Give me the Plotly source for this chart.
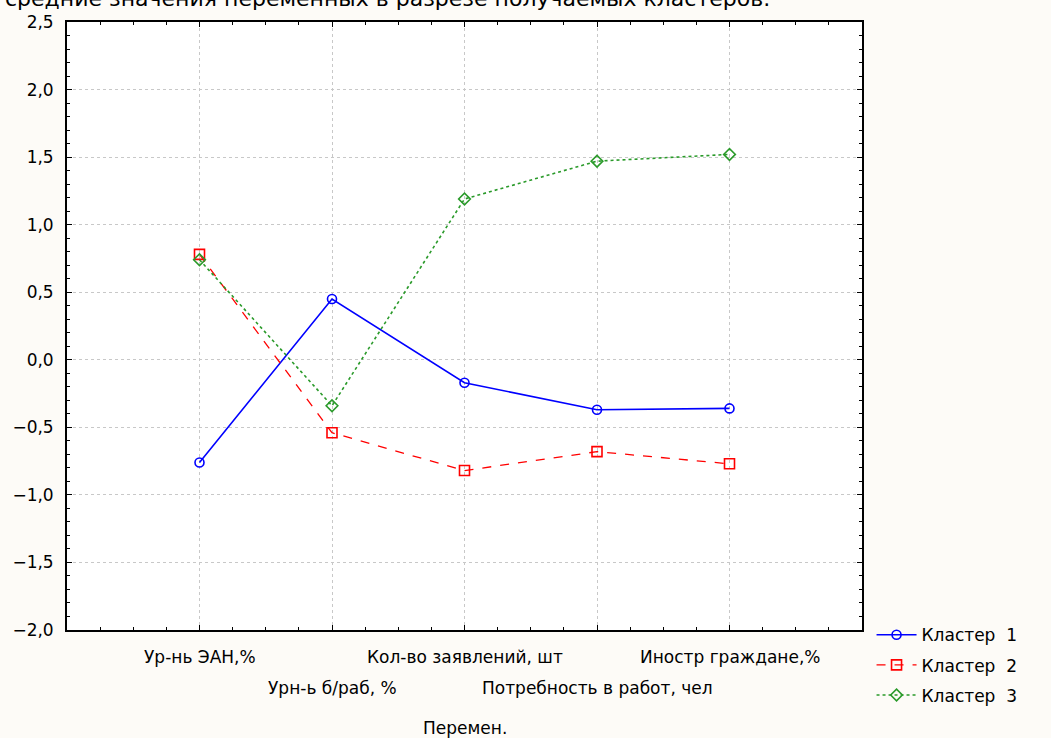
import plotly.graph_objects as go

categories = ["Ур-нь ЭАН,%", "Урн-ь б/раб, %", "Кол-во заявлений, шт",
              "Потребность в работ, чел", "Иностр граждане,%"]
cluster1 = [-0.76, 0.45, -0.17, -0.37, -0.36]
cluster2 = [0.78, -0.54, -0.82, -0.68, -0.77]
cluster3 = [0.74, -0.34, 1.19, 1.47, 1.52]
series_names = ["Кластер  1", "Кластер  2", "Кластер  3"]
title_text = "средние значения переменных в разрезе получаемых кластеров."
x_title = "Перемен."

FONT = "DejaVu Sans, Verdana, sans-serif"
FS = 17
BG = "#FDFBF7"
idx = list(range(len(categories)))

fig = go.Figure()
fig.add_trace(go.Scatter(x=idx, y=cluster1, name=series_names[0], mode="lines+markers",
                         legendgroup="c1",
                         line=dict(color="#0000FF", width=1.6),
                         marker=dict(symbol="circle-open", size=9, color="#0000FF", line=dict(width=1.6))))
fig.add_trace(go.Scatter(x=idx, y=cluster2, name=series_names[1], mode="lines+markers",
                         legendgroup="c2",
                         line=dict(color="#FF0000", width=1.3, dash="dash"),
                         marker=dict(symbol="square-open", size=10, color="#FF0000", line=dict(width=1.6))))
fig.add_trace(go.Scatter(x=idx, y=cluster3, name=series_names[2], mode="lines+markers",
                         legendgroup="c3",
                         line=dict(color="#2A9A2A", width=1.6, dash="dot"),
                         marker=dict(symbol="diamond-open", size=9, color="#2A9A2A", line=dict(width=1.6))))

# x category labels in two staggered rows
for i, c in enumerate(categories):
    fig.add_annotation(x=i, xref="x", y=-0.044 if i % 2 == 0 else -0.095, yref="paper",
                       text=c, showarrow=False, yanchor="middle", xanchor="center",
                       font=dict(family=FONT, size=FS, color="black"))
fig.add_annotation(x=2, xref="x", y=-0.161, yref="paper", text=x_title, showarrow=False,
                   yanchor="middle", xanchor="center", font=dict(family=FONT, size=FS, color="black"))
fig.add_annotation(x=-0.0802, xref="paper", xanchor="left", y=1.038, yref="paper", yanchor="middle",
                   text=title_text, showarrow=False,
                   font=dict(family=FONT, size=22, color="black"))

fig.update_layout(
    width=1051, height=738,
    margin=dict(l=64, r=189, t=20, b=108),
    paper_bgcolor=BG, plot_bgcolor="white",
    separators=", ",
    font=dict(family=FONT, size=FS, color="black"),
    showlegend=True,
    legend=dict(x=1.012, xanchor="left", y=0.021, yanchor="top", bgcolor="rgba(0,0,0,0)",
                font=dict(family=FONT, size=FS, color="black"), tracegroupgap=5,
                traceorder="grouped", itemwidth=40),
)
fig.update_xaxes(range=[-1, 5], tickvals=idx, showticklabels=False,
                 showline=True, linecolor="black", linewidth=1.8, mirror="ticks",
                 ticks="inside", ticklen=5, tickcolor="black",
                 showgrid=True, gridcolor="#C8C8C8", griddash="dot", gridwidth=1,
                 zeroline=False,
                 minor=dict(dtick=0.25, tick0=0, ticks="inside", ticklen=3, tickcolor="black", showgrid=False))
fig.update_yaxes(range=[-2.0, 2.5], dtick=0.5, tick0=0, tickformat=".1f",
                 showline=True, linecolor="black", linewidth=1.8, mirror="ticks",
                 ticks="inside", ticklen=5, tickcolor="black", ticklabelstandoff=8,
                 showgrid=True, gridcolor="#C8C8C8", griddash="dot", gridwidth=1,
                 zeroline=False,
                 minor=dict(dtick=0.1, ticks="inside", ticklen=3, tickcolor="black", showgrid=False))

fig.write_html("out.html", config={"displayModeBar": False},
               post_script="document.body.style.margin='0';document.body.style.background='%s';" % BG)
